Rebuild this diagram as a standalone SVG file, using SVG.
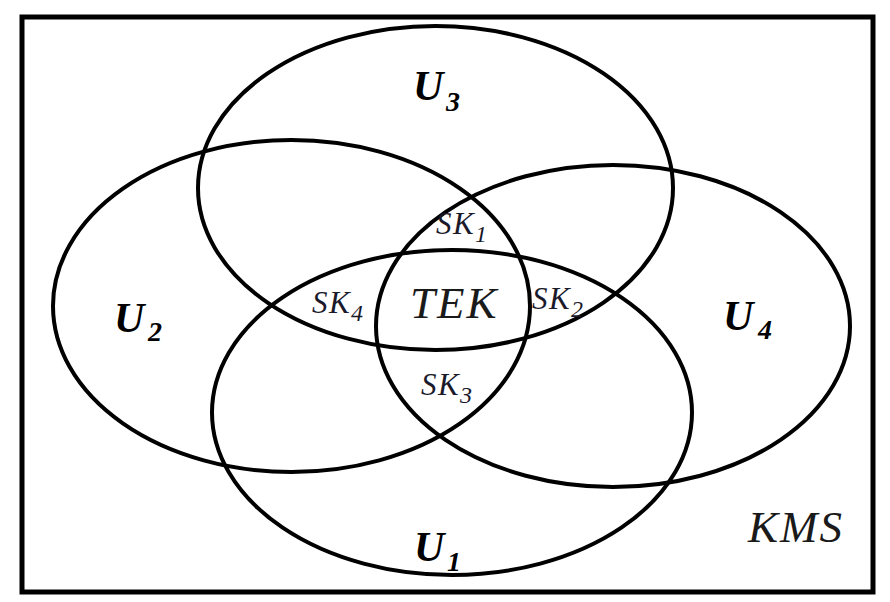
<svg xmlns="http://www.w3.org/2000/svg" width="890" height="602" viewBox="0 0 890 602">
<style>
.frame{fill:none;stroke:#000;stroke-width:5}
.set{fill:none;stroke:#000;stroke-width:4}
.u{font-family:"Liberation Serif",serif;font-style:italic;font-weight:bold;font-size:42px;fill:#000}
.us{font-size:28px}
.sk{font-family:"Liberation Serif",serif;font-style:italic;font-size:31px;fill:#1a1a2a;letter-spacing:1.5px}
.sks{font-size:24px}
.big{font-family:"Liberation Serif",serif;font-style:italic;font-size:45px;fill:#1a1a1a;letter-spacing:2px}
</style>
<rect class="frame" x="22" y="17" width="851" height="575"/>
<g id="U3"><ellipse class="set" cx="435.5" cy="188" rx="237.5" ry="162"/>
<text class="u" x="413" y="100">U<tspan class="us" x="446" y="111">3</tspan></text></g>
<g id="U1"><ellipse class="set" cx="452" cy="412.5" rx="240" ry="162.5"/>
<text class="u" x="414" y="561">U<tspan class="us" x="447" y="571">1</tspan></text></g>
<g id="U2"><ellipse class="set" cx="291.5" cy="306" rx="238.5" ry="166"/>
<text class="u" x="114" y="332">U<tspan class="us" x="148" y="341">2</tspan></text></g>
<g id="U4"><ellipse class="set" cx="613" cy="326" rx="237" ry="161"/>
<text class="u" x="723" y="330">U<tspan class="us" x="758" y="339">4</tspan></text></g>
<g id="TEK"><text class="big" x="410" y="318">TEK</text></g>
<g id="SK1"><text class="sk" x="436" y="234">SK<tspan class="sks" x="475" y="242">1</tspan></text></g>
<g id="SK2"><text class="sk" x="532" y="309">SK<tspan class="sks" x="571" y="317">2</tspan></text></g>
<g id="SK3"><text class="sk" x="421" y="395">SK<tspan class="sks" x="460" y="403">3</tspan></text></g>
<g id="SK4"><text class="sk" x="312" y="313">SK<tspan class="sks" x="351" y="321">4</tspan></text></g>
<g id="KMS"><text class="big" x="748" y="542">KMS</text></g>
<g id="connectors"/>
</svg>
